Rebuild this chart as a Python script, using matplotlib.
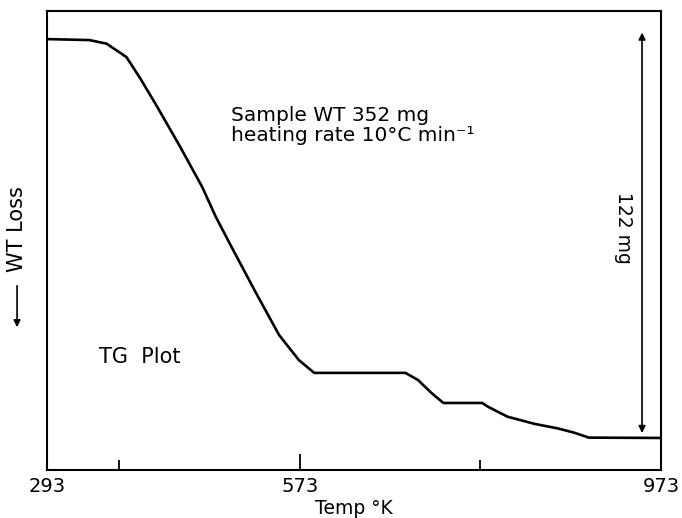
import numpy as np
import matplotlib
matplotlib.use('Agg')
import matplotlib.pyplot as plt

# ---- data (temperature in K, weight loss in mg) ----
temp_K = [293, 340, 359, 381, 396, 414, 440, 465, 480, 498, 524, 550, 572, 589,
          690, 704, 719, 732, 775, 781, 803, 833, 859, 877, 893, 973]
loss_mg = [0.0, 0.3, 1.4, 5.5, 11.9, 20.2, 32.7, 45.3, 54.4, 63.9, 77.4, 90.5, 98.2, 102.1,
           102.1, 104.3, 108.3, 111.3, 111.3, 112.4, 115.5, 117.7, 119.1, 120.4, 121.9, 122.0]

tick_major = [293, 573, 973]
tick_minor = [373, 773]
total_loss = 122          # mg, marked by the double arrow
sample_wt = 352           # mg
rate = 10                 # degC / min

fig = plt.figure(figsize=(6.82, 5.18), dpi=100)
ax = fig.add_axes([0.0689, 0.0927, 0.9003, 0.8861])

ax.plot(temp_K, loss_mg, color='black', lw=1.9, solid_joinstyle='round')

ax.set_xlim(293, 973)
ax.set_ylim(131.8, -8.6)   # loss grows downward

for s in ax.spines.values():
    s.set_linewidth(1.5)

ax.set_yticks([])
ax.set_xticks(tick_major)
ax.set_xticklabels([str(t) for t in tick_major])
ax.set_xticks(tick_minor, minor=True)
ax.tick_params(axis='x', which='major', direction='in', length=11.5, width=1.3,
               labelsize=14, pad=5)
ax.tick_params(axis='x', which='minor', direction='in', length=7, width=1.3)
ax.set_xlabel('Temp °K', fontsize=13.5, labelpad=2)

# double arrow showing the total loss
ax.annotate('', xy=(952, -2.0), xytext=(952, 120.5),
            arrowprops=dict(arrowstyle='<|-|>', color='black', lw=1.2,
                            mutation_scale=10, shrinkA=0, shrinkB=0))
ax.text(932, 57.8, f'{total_loss} mg', rotation=270, ha='center', va='center',
        fontsize=13.5)

ax.text(497, 23.5, f'Sample WT {sample_wt} mg', ha='left', va='center', fontsize=14.5)
ax.text(497, 29.5, f'heating rate {rate}°C min⁻¹', ha='left', va='center', fontsize=14.5)
ax.text(351, 97.2, 'TG  Plot', ha='left', va='center', fontsize=15)

# y label with arrow pointing downward
fig.text(0.025, 0.558, 'WT Loss', rotation=90, ha='center', va='center', fontsize=15)
fig.patches.append(matplotlib.patches.FancyArrowPatch(
    (0.025, 0.4537), (0.025, 0.3629), transform=fig.transFigure,
    arrowstyle='-|>', mutation_scale=10, color='black', lw=1.2))

fig.savefig('out.png', dpi=100)
